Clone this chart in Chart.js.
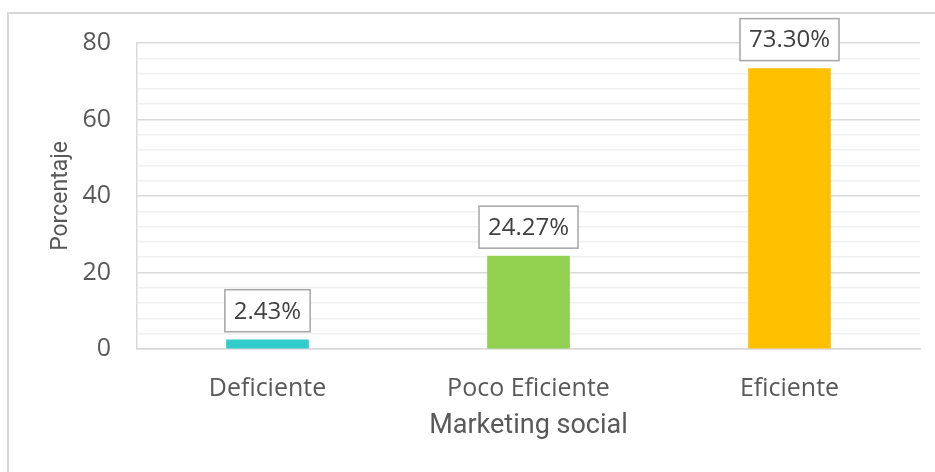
<!DOCTYPE html>
<html>
<head>
<meta charset="utf-8">
<script src="https://cdn.jsdelivr.net/npm/chart.js@4.4.1/dist/chart.umd.min.js"></script>
<style>
  body { margin: 0; background: #fff; overflow: hidden; }
  #wrap { position: relative; width: 935px; height: 472px; }
  #marco { position: absolute; left: 7px; top: 12px; width: 1000px; height: 600px; border: 2px solid #d9d9d9; }
  canvas { position: absolute; left: 0; top: 0; }
</style>
</head>
<body>
<div id="wrap">
  <div id="marco"></div>
  <canvas id="barChart" width="935" height="472"></canvas>
</div>
<script>
const categorias = ['Deficiente', 'Poco Eficiente', 'Eficiente'];
const porcentajes = [2.43, 24.27, 73.30];
const etiquetas = ['2.43%', '24.27%', '73.30%'];
const colores = ['#33CCCC', '#92D050', '#FFC000'];

// cajas con el valor encima de cada barra
const etiquetasPlugin = {
    id: 'etiquetas',
    afterDatasetsDraw(chart) {
        const ctx = chart.ctx;
        const meta = chart.getDatasetMeta(0);
        ctx.save();
        ctx.font = '24px "Open Sans"';
        ctx.textAlign = 'center';
        ctx.textBaseline = 'middle';
        meta.data.forEach((bar, i) => {
            const w = ctx.measureText(etiquetas[i]).width + 18;
            const h = 42;
            const x = bar.x - w / 2;
            const y = bar.y - 8 - h;
            ctx.fillStyle = '#ffffff';
            ctx.fillRect(x, y, w, h);
            ctx.strokeStyle = '#a6a6a6';
            ctx.lineWidth = 1.5;
            ctx.strokeRect(x, y, w, h);
            ctx.fillStyle = '#404040';
            ctx.fillText(etiquetas[i], bar.x, y + h / 2 + 1);
        });
        ctx.restore();
    }
};

const barChart = document.getElementById('barChart').getContext('2d');

new Chart(barChart, {
    type: 'bar',
    data: {
        labels: categorias,
        datasets: [{
            data: porcentajes,
            backgroundColor: colores,
            barThickness: 82
        }]
    },
    options: {
        responsive: false,
        animation: false,
        layout: { padding: { left: 0, top: 43, right: 15, bottom: 0 } },
        plugins: {
            legend: { display: false },
            tooltip: { enabled: false }
        },
        scales: {
            x: {
                afterFit: axis => { axis.height = 123; },
                grid: { display: false },
                border: { color: '#d9d9d9', width: 1.5 },
                ticks: {
                    color: '#595959',
                    font: { family: 'Open Sans', size: 25 },
                    padding: 17
                },
                title: {
                    display: true,
                    text: 'Marketing social',
                    color: '#595959',
                    font: { family: 'Roboto', size: 27 },
                    padding: { bottom: 30 }
                }
            },
            y: {
                min: 0,
                max: 80,
                afterFit: axis => { axis.width = 137; },
                border: { color: '#d9d9d9', width: 1.5 },
                grid: {
                    drawTicks: false,
                    color: c => (c.tick.value % 20 === 0 ? '#d9d9d9' : '#f0f0f0'),
                    lineWidth: 1.5
                },
                ticks: {
                    stepSize: 4,
                    autoSkip: false,
                    color: '#595959',
                    font: { family: 'Open Sans', size: 25 },
                    padding: 26,
                    callback: v => (v % 20 === 0 ? v : '')
                },
                title: {
                    display: true,
                    text: 'Porcentaje',
                    color: '#595959',
                    font: { family: 'Roboto', size: 23 },
                    padding: { top: 47 }
                }
            }
        }
    },
    plugins: [etiquetasPlugin]
});
</script>
</body>
</html>
